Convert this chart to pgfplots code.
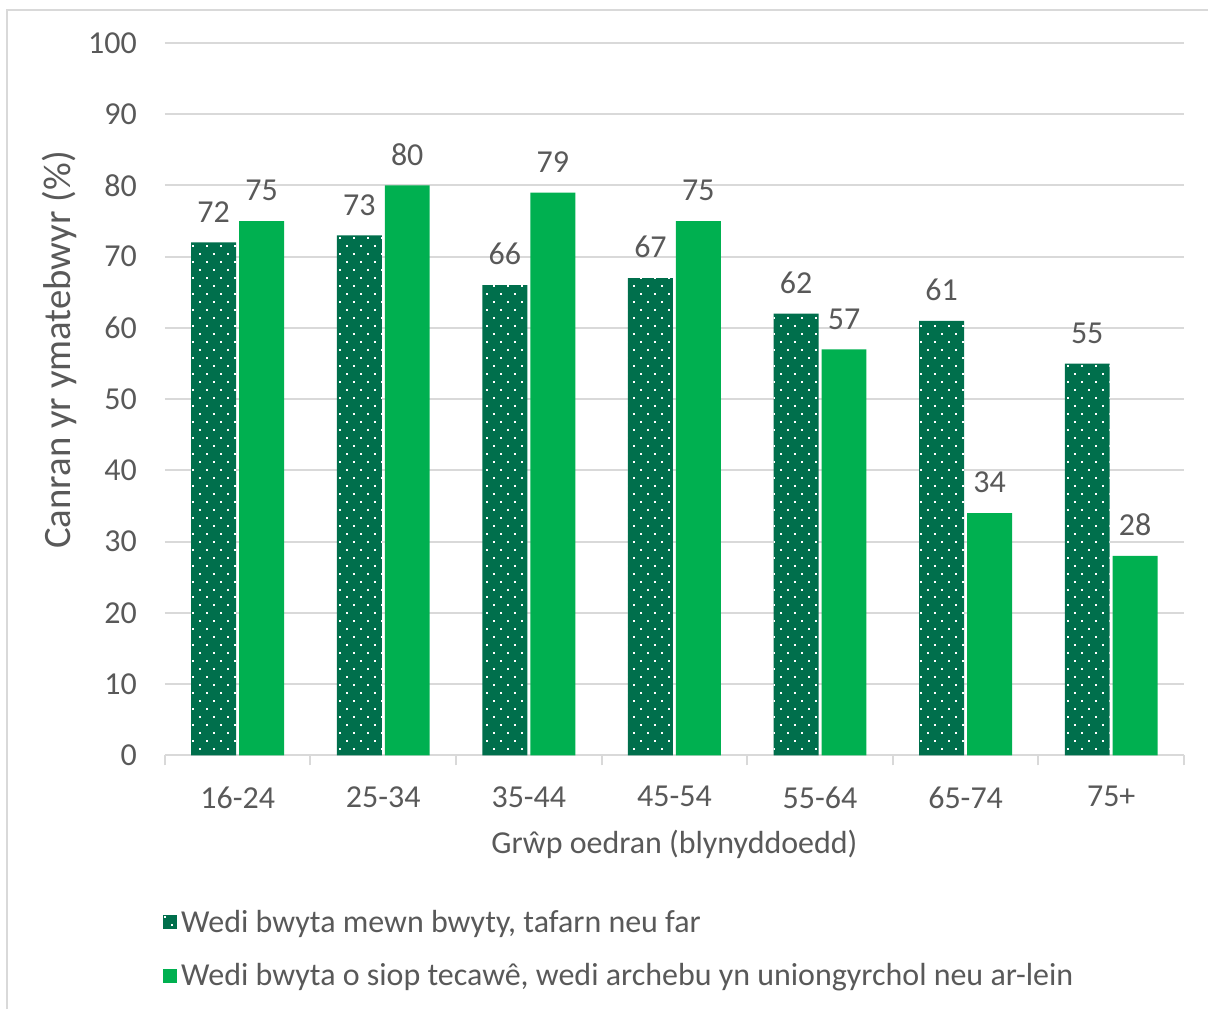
\documentclass[border=0pt]{standalone}
\usepackage{fontspec}
\setmainfont{Carlito}
\usepackage{pgfplots}
\pgfplotsset{compat=1.18}
\usetikzlibrary{patterns.meta}

\definecolor{darkgrn}{HTML}{006F4C}
\definecolor{lightgrn}{HTML}{00B050}
\definecolor{txtgray}{HTML}{595959}
\definecolor{gridgray}{HTML}{D9D9D9}

% staggered white dots, as in the source chart
\tikzdeclarepattern{
  name=whitedots,
  type=uncolored,
  bottom left={(-0.1pt,-0.1pt)},
  top right={(7pt,8pt)},
  tile size={(7pt,8pt)},
  code={
    \fill (1.75pt,2pt) rectangle ++(1pt,1pt);
    \fill (5.25pt,6pt) rectangle ++(1pt,1pt);
  }
}

\begin{document}
\begin{tikzpicture}
\begin{axis}[
    scale only axis,
    width=510pt, height=356.5pt,
    ybar=1.5pt, bar width=22.5pt,
    xmin=-0.5, xmax=6.5,
    ymin=0, ymax=100,
    xtick={0,...,6},
    xticklabels={16-24,25-34,35-44,45-54,55-64,65-74,75+},
    minor xtick={-0.5,0.5,...,6.5},
    ytick={0,10,...,100},
    axis lines*=left,
    y axis line style={draw=none},
    x axis line style={draw=gridgray, line width=1pt},
    major tick length=0pt,
    minor tick length=5pt,
    tick align=outside,
    minor x tick style={draw=gridgray, line width=1pt},
    ymajorgrids,
    grid style={gridgray, line width=1pt},
    font=\fontsize{16}{19}\selectfont,
    /pgf/number format/assume math mode=true,
    tick label style={text=txtgray},
    xticklabel style={yshift=-12pt},
    yticklabel style={xshift=-10.5pt},
    xlabel={Grŵp oedran (blynyddoedd)},
    ylabel={Canran yr ymatebwyr (\%)},
    label style={text=txtgray},
    xlabel style={at={(axis description cs:0.5,-0.125)}, anchor=center},
    ylabel style={at={(axis description cs:-0.103,0.569)}, anchor=center,
        font=\fontsize{19.4}{23}\selectfont},
    nodes near coords,
    every node near coord/.append style={text=txtgray, yshift=6.5pt},
    legend style={at={(axis description cs:-0.008,-0.205)}, anchor=north west,
        draw=none, fill=none, text=txtgray, row sep=10pt,
        font=\fontsize{16}{19}\selectfont},
    legend cell align=left,
    legend image code/.code={\fill[#1] (0pt,-3.5pt) rectangle (7pt,3.5pt);},
]
\addplot[fill=darkgrn, draw=none,
    postaction={pattern={whitedots}, pattern color=white}]
    coordinates {(0,72) (1,73) (2,66) (3,67) (4,62) (5,61) (6,55)};
\addplot[fill=lightgrn, draw=none]
    coordinates {(0,75) (1,80) (2,79) (3,75) (4,57) (5,34) (6,28)};
\legend{{Wedi bwyta mewn bwyty, tafarn neu far},
        {Wedi bwyta o siop tecawê, wedi archebu yn uniongyrchol neu ar-lein}}
\end{axis}
\draw[gridgray, line width=1pt] (-79pt,-127pt) -- (-79pt,373pt) -- (522pt,373pt);
\path[use as bounding box] (-82.5pt,-127pt) rectangle (522pt,378pt);
\end{tikzpicture}
\end{document}
